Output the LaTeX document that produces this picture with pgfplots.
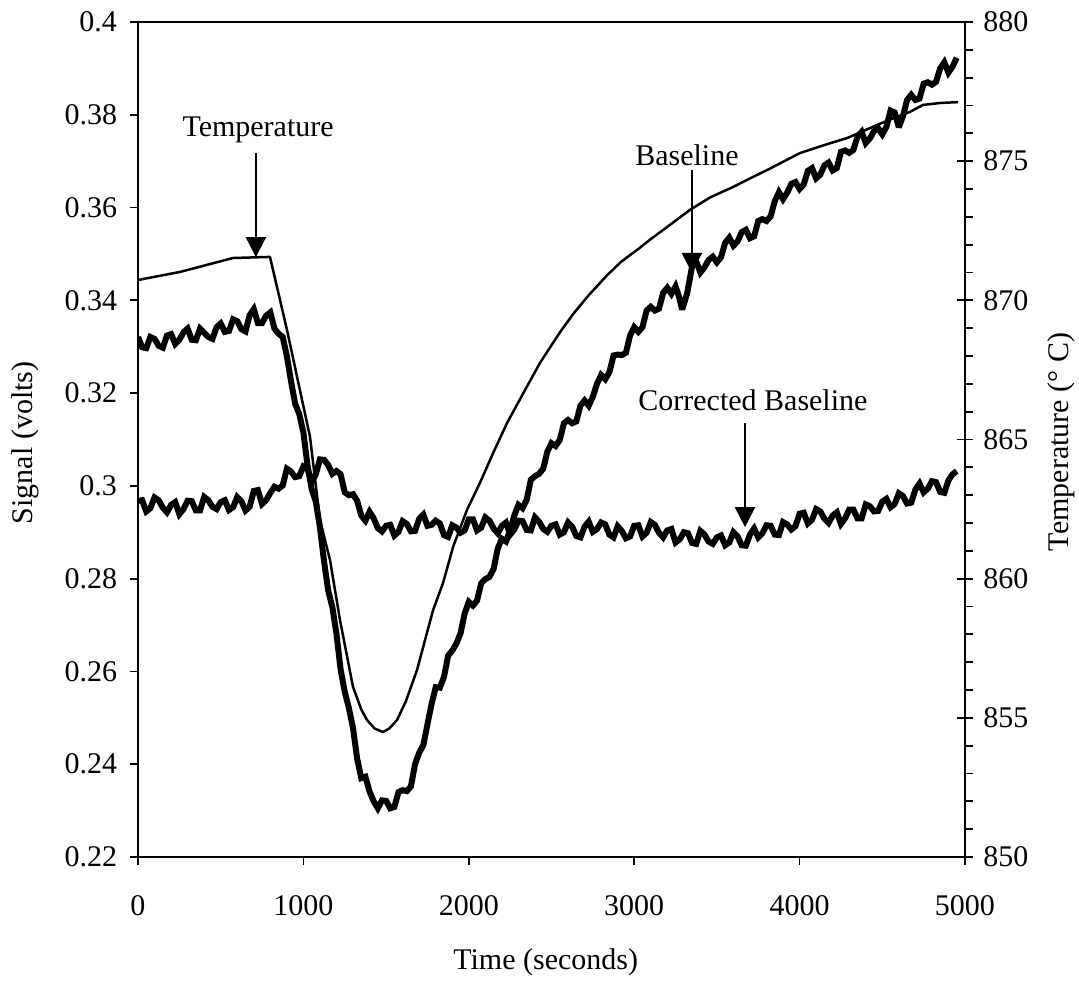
\documentclass[border=0pt]{standalone}
\usepackage{pgfplots}
\pgfplotsset{compat=1.18}
\usepackage{fontspec}
\setmainfont{Liberation Serif}
\usetikzlibrary{arrows.meta}

\begin{document}
\fontsize{12pt}{14pt}\selectfont
\begin{tikzpicture}
\path[use as bounding box] (0,0) rectangle (431.6pt,396.4pt);
\pgfplotsset{
  common/.style={
    scale only axis, width=330.8pt, height=334pt,
    at={(55.2pt,53.6pt)}, anchor=south west,
    xmin=0, xmax=5000,
    axis line style={line width=0.8pt},
    tick style={line width=0.7pt, black},
    major tick length=3.2pt, minor tick length=3.2pt,
    tick align=outside,
    /pgf/number format/assume math mode=true,
    /pgf/number format/1000 sep={},
    scaled x ticks=false, scaled y ticks=false,
    tick label style={font=\fontsize{12pt}{14pt}\selectfont},
    label style={font=\fontsize{12pt}{14pt}\selectfont},
  }
}
\begin{axis}[common,
  ymin=0.22, ymax=0.4,
  xtick={0,1000,2000,3000,4000,5000},
  ytick={0.22,0.24,0.26,0.28,0.3,0.32,0.34,0.36,0.38,0.4},
  xtick pos=bottom, ytick pos=left,
  xticklabel style={yshift=-8pt},
  yticklabel style={xshift=-1pt},
  xlabel={Time (seconds)}, ylabel={Signal (volts)},
  every axis x label/.style={at={(axis description cs:0.493,-0.1257)},anchor=center},
  every axis y label/.style={at={(axis description cs:-0.1366,0.496)},anchor=center,rotate=90},
]
% Baseline (noisy signal)
\addplot[black, line width=2.4pt, line join=miter, miter limit=3] table {
0 0.3321
25 0.3299
50 0.3297
75 0.3321
100 0.3317
125 0.3302
150 0.3298
175 0.3324
200 0.3327
225 0.3306
250 0.3315
275 0.3331
300 0.3339
325 0.3315
350 0.3314
375 0.3339
400 0.3330
425 0.3321
450 0.3317
475 0.3342
500 0.3350
525 0.3332
550 0.3334
575 0.3359
600 0.3355
625 0.3338
650 0.3333
675 0.3368
700 0.3381
725 0.3351
750 0.3351
775 0.3367
800 0.3374
825 0.3339
850 0.3328
875 0.3321
900 0.3280
925 0.3226
950 0.3177
975 0.3155
1000 0.3115
1025 0.3044
1050 0.2993
1075 0.2966
1100 0.2911
1125 0.2837
1150 0.2774
1175 0.2739
1200 0.2681
1225 0.2604
1250 0.2556
1275 0.2521
1300 0.2478
1325 0.2412
1350 0.2370
1375 0.2373
1400 0.2341
1425 0.2320
1450 0.2305
1475 0.2322
1500 0.2321
1525 0.2305
1550 0.2308
1575 0.2340
1600 0.2344
1625 0.2342
1650 0.2352
1675 0.2400
1700 0.2425
1725 0.2441
1750 0.2486
1775 0.2530
1800 0.2566
1825 0.2565
1850 0.2588
1875 0.2634
1900 0.2645
1925 0.2660
1950 0.2682
1975 0.2725
2000 0.2750
2025 0.2742
2050 0.2753
2075 0.2790
2100 0.2799
2125 0.2804
2150 0.2821
2175 0.2865
2200 0.2886
2225 0.2880
2250 0.2904
2275 0.2936
2300 0.2959
2325 0.2952
2350 0.2970
2375 0.3013
2400 0.3021
2425 0.3026
2450 0.3037
2475 0.3074
2500 0.3092
2525 0.3086
2550 0.3099
2575 0.3135
2600 0.3142
2625 0.3135
2650 0.3139
2675 0.3173
2700 0.3184
2725 0.3173
2750 0.3192
2775 0.3220
2800 0.3239
2825 0.3230
2850 0.3245
2875 0.3281
2900 0.3283
2925 0.3282
2950 0.3287
2975 0.3324
3000 0.3342
3025 0.3332
3050 0.3342
3075 0.3378
3100 0.3386
3125 0.3378
3150 0.3382
3175 0.3416
3200 0.3427
3225 0.3414
3250 0.3430
3270 0.3409
3290 0.3380
3320 0.3415
3350 0.3473
3375 0.3484
3400 0.3460
3425 0.3471
3450 0.3487
3475 0.3494
3500 0.3482
3525 0.3493
3550 0.3524
3575 0.3535
3600 0.3518
3625 0.3527
3650 0.3547
3675 0.3552
3700 0.3534
3725 0.3538
3750 0.3571
3775 0.3575
3800 0.3571
3825 0.3581
3850 0.3614
3875 0.3633
3900 0.3618
3925 0.3632
3950 0.3651
3975 0.3655
4000 0.3640
4025 0.3650
4050 0.3679
4075 0.3685
4100 0.3663
4125 0.3671
4150 0.3691
4175 0.3697
4200 0.3680
4225 0.3685
4250 0.3720
4275 0.3723
4300 0.3718
4325 0.3724
4350 0.3753
4375 0.3763
4400 0.3739
4425 0.3749
4450 0.3765
4475 0.3771
4500 0.3758
4525 0.3774
4550 0.3809
4575 0.3805
4600 0.3773
4625 0.3797
4650 0.3832
4675 0.3843
4700 0.3832
4725 0.3835
4750 0.3867
4775 0.3870
4800 0.3865
4825 0.3871
4850 0.3900
4875 0.3913
4900 0.3891
4925 0.3904
4950 0.3923
};
% Corrected baseline
\addplot[black, line width=2.4pt, line join=miter, miter limit=3] table {
0 0.2968
25 0.2969
50 0.2945
75 0.2952
100 0.2975
125 0.2969
150 0.2953
175 0.2943
200 0.2959
225 0.2965
250 0.2939
275 0.2950
300 0.2968
325 0.2967
350 0.2947
375 0.2947
400 0.2976
425 0.2969
450 0.2955
475 0.2950
500 0.2965
525 0.2969
550 0.2948
575 0.2954
600 0.2976
625 0.2967
650 0.2947
675 0.2955
700 0.2989
725 0.2991
750 0.2961
775 0.2969
800 0.2985
825 0.2998
850 0.2994
875 0.3001
900 0.3037
925 0.3031
950 0.3019
975 0.3021
1000 0.3042
1025 0.3037
1050 0.3008
1075 0.3025
1100 0.3057
1125 0.3056
1150 0.3045
1175 0.3026
1200 0.3032
1225 0.3025
1250 0.2986
1275 0.2980
1300 0.2982
1325 0.2968
1350 0.2936
1375 0.2925
1400 0.2944
1425 0.2930
1450 0.2909
1475 0.2902
1500 0.2914
1525 0.2916
1550 0.2893
1575 0.2901
1600 0.2924
1625 0.2918
1650 0.2902
1675 0.2903
1700 0.2929
1725 0.2938
1750 0.2914
1775 0.2916
1800 0.2925
1825 0.2919
1850 0.2894
1875 0.2890
1900 0.2915
1925 0.2910
1950 0.2899
1975 0.2904
2000 0.2928
2025 0.2928
2050 0.2904
2075 0.2910
2100 0.2932
2125 0.2925
2150 0.2908
2175 0.2898
2200 0.2914
2225 0.2921
2250 0.2895
2275 0.2906
2300 0.2925
2325 0.2924
2350 0.2905
2375 0.2904
2400 0.2932
2425 0.2923
2450 0.2907
2475 0.2901
2500 0.2914
2525 0.2917
2550 0.2895
2575 0.2900
2600 0.2921
2625 0.2912
2650 0.2892
2675 0.2889
2700 0.2912
2725 0.2923
2750 0.2901
2775 0.2907
2800 0.2921
2825 0.2917
2850 0.2895
2875 0.2889
2900 0.2913
2925 0.2903
2950 0.2887
2975 0.2891
3000 0.2914
3025 0.2915
3050 0.2891
3075 0.2899
3100 0.2922
3125 0.2916
3150 0.2899
3175 0.2889
3200 0.2904
3225 0.2907
3250 0.2878
3275 0.2885
3300 0.2900
3325 0.2898
3350 0.2877
3375 0.2875
3400 0.2903
3425 0.2895
3450 0.2880
3475 0.2875
3500 0.2889
3525 0.2893
3550 0.2872
3575 0.2878
3600 0.2900
3625 0.2891
3650 0.2872
3675 0.2871
3700 0.2895
3725 0.2908
3750 0.2889
3775 0.2898
3800 0.2915
3825 0.2914
3850 0.2895
3875 0.2894
3900 0.2922
3925 0.2917
3950 0.2906
3975 0.2913
4000 0.2940
4025 0.2942
4050 0.2919
4075 0.2927
4100 0.2950
4125 0.2945
4150 0.2929
4175 0.2920
4200 0.2936
4225 0.2943
4250 0.2918
4275 0.2930
4300 0.2949
4325 0.2949
4350 0.2930
4375 0.2930
4400 0.2960
4425 0.2956
4450 0.2945
4475 0.2946
4500 0.2966
4525 0.2972
4550 0.2954
4575 0.2961
4600 0.2984
4625 0.2978
4650 0.2962
4675 0.2964
4700 0.2992
4725 0.3005
4750 0.2986
4775 0.2994
4800 0.3010
4825 0.3008
4850 0.2987
4875 0.2985
4900 0.3012
4925 0.3025
4950 0.3032
};
% annotations
\node[anchor=center] at (axis cs:726,0.3767) {Temperature};
\draw[line width=0.8pt, -{Triangle[width=8pt,length=8pt]}] (axis cs:713,0.3718) -- (axis cs:713,0.3493);
\node[anchor=center] at (axis cs:3319,0.3713) {Baseline};
\draw[line width=0.8pt, -{Triangle[width=8pt,length=8pt]}] (axis cs:3349,0.3681) -- (axis cs:3349,0.3459);
\node[anchor=center] at (axis cs:3718,0.3185) {Corrected Baseline};
\draw[line width=0.8pt, -{Triangle[width=8pt,length=8pt]}] (axis cs:3670,0.3136) -- (axis cs:3670,0.2911);
\end{axis}

\begin{axis}[common,
  axis x line=none, axis y line*=right,
  ymin=850, ymax=880,
  ytick={850,855,860,865,870,875,880},
  minor y tick num=4,
  extra y ticks={850,855,860,865,870,875,880},
  extra y tick labels={},
  extra y tick style={tick align=inside},
  ylabel={Temperature (° C)},
  every axis y label/.style={at={(axis description cs:1.117,0.497)},anchor=center,rotate=90},
]
\addplot[black, line width=1pt, line join=round] coordinates {
(0,870.73)(254,871.02)(574,871.52)(798,871.56)(901,868.93)(1040,865.09)(1100,862.11)(1161,860.67)(1221,858.52)
(1300,856.11)(1350,855.30)(1385,854.92)(1430,854.62)(1481,854.49)(1520,854.62)(1566,854.92)(1620,855.60)(1687,856.72)
(1784,858.87)(1844,859.84)(1905,861.14)(1989,862.47)(2068,863.45)(2150,864.55)(2231,865.59)(2310,866.45)(2430,867.75)
(2551,868.85)(2630,869.50)(2720,870.15)(2836,870.90)(2920,871.38)(3017,871.81)(3100,872.20)(3198,872.63)(3337,873.25)
(3460,873.70)(3597,874.07)(3700,874.38)(3803,874.68)(4002,875.29)(4150,875.58)(4287,875.83)(4380,876.07)(4468,876.30)
(4570,876.55)(4667,876.77)(4746,877.02)(4849,877.09)(4958,877.12)
};
\end{axis}
\end{tikzpicture}
\end{document}
